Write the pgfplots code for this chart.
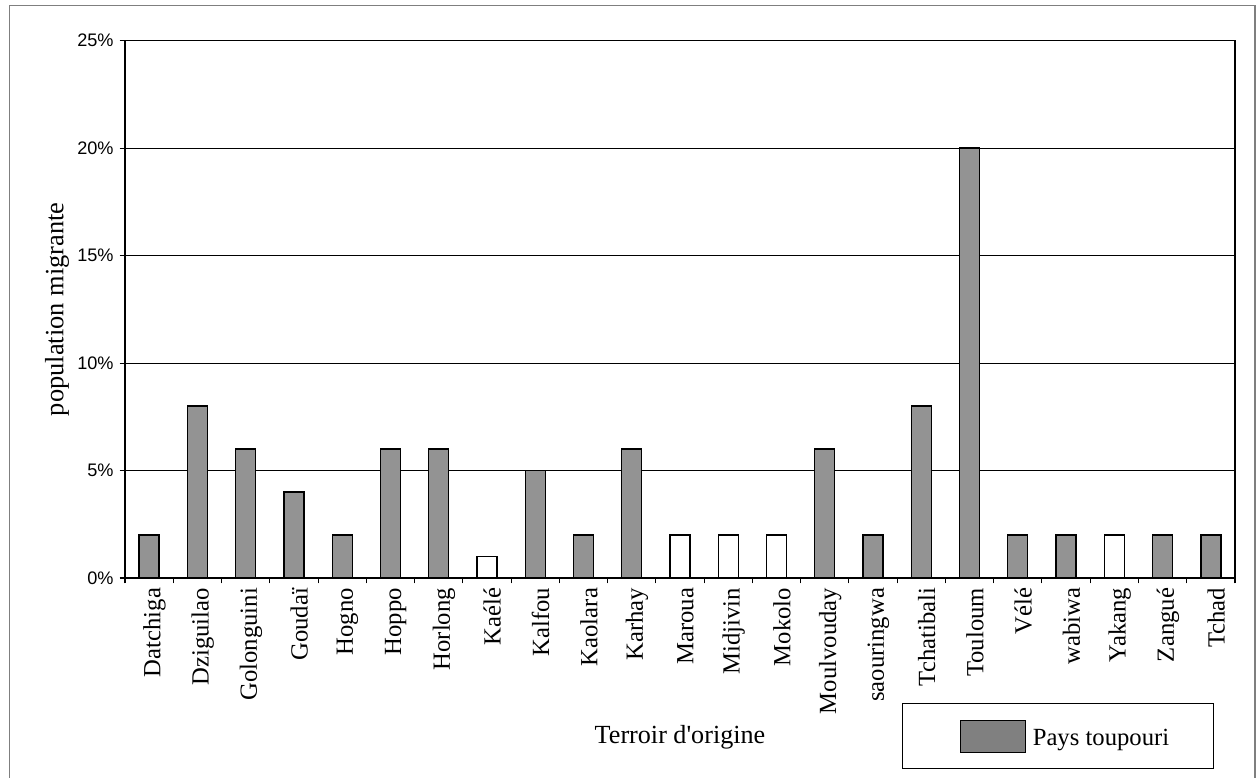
\documentclass[border=0pt]{standalone}
\usepackage{fontspec}
\setmainfont{Liberation Serif}[Ligatures=TeXOff]
\setsansfont{Liberation Sans}
\usepackage{pgfplots}
\pgfplotsset{compat=1.18}
\definecolor{barfill}{HTML}{939393}
\definecolor{keyfill}{HTML}{808080}
\definecolor{framegray}{HTML}{7F7F7F}
\newcommand{\pct}[1]{{\sffamily\fontsize{13.6}{16}\selectfont #1\%}}

% share of migrants by home area (percent)
\pgfplotstableread{
x  y
1  2
2  8
3  6
4  4
5  2
6  6
7  6
9  5
10 2
11 6
15 6
16 2
17 8
18 20
19 2
20 2
22 2
23 2
}\toupouri
\pgfplotstableread{
x  y
8  1
12 2
13 2
14 2
21 2
}\autres

\begin{document}
\begin{tikzpicture}
\useasboundingbox (-93.75pt,-150pt) rectangle (849pt,433.5pt);
\draw[framegray, line width=0.9pt] (-86.6pt,-160pt) rectangle (847.5pt,429.6pt);
\begin{axis}[
  at={(0,0)}, anchor=south west,
  scale only axis,
  width=832.5pt, height=403pt,
  xmin=0.5, xmax=23.5,
  ymin=0, ymax=25,
  axis line style={line width=1.1pt},
  xtick={1,...,23},
  xticklabels={Datchiga,Dziguilao,Golonguini,Goudaï,Hogno,Hoppo,Horlong,Kaélé,Kalfou,Kaolara,Karhay,Maroua,Midjivin,Mokolo,Moulvouday,saouringwa,Tchatibali,Touloum,Vélé,wabiwa,Yakang,Zangué,Tchad},
  minor xtick={0.5,1.5,...,23.5},
  major x tick style={draw=none},
  minor x tick style={black, line width=0.8pt},
  y tick style={black, line width=0.8pt},
  tick align=outside,
  major tick length=4pt,
  minor tick length=4pt,
  xtick pos=bottom, ytick pos=left,
  ytick={0,5,10,15,20,25},
  yticklabels={\pct{0},\pct{5},\pct{10},\pct{15},\pct{20},\pct{25}},
  yticklabel style={xshift=-1pt},
  xticklabel style={rotate=90, anchor=east, font=\fontsize{18.5}{21}\selectfont, yshift=-4pt},
  ymajorgrids,
  grid style={black, line width=0.7pt},
  xlabel={Terroir d'origine},
  ylabel={population migrante},
  xlabel style={at={(axis description cs:0.5,-0.2955)}, anchor=center, font=\fontsize{19.6}{22}\selectfont},
  ylabel style={at={(axis description cs:-0.0611,0.5)}, anchor=center, font=\fontsize{19.8}{22}\selectfont},
  legend style={at={(0.7,-0.2326)}, anchor=north west, draw=black, line width=0.8pt,
    inner xsep=31pt, inner ysep=12pt, font=\fontsize{18.5}{21}\selectfont},
  legend image code/.code={\path (-12pt,0pt);
    \draw[fill=keyfill, line width=0.9pt] (0pt,-10pt) rectangle (48.75pt,14pt);},
]
\addplot[ybar, bar width=15pt, bar shift=0pt, fill=barfill, draw=black, line width=1pt]
  table[x=x, y=y] {\toupouri};
\addlegendentry{\hspace{3pt}Pays\ toupouri}
\addplot[ybar, bar width=15pt, bar shift=0pt, fill=white, draw=black, line width=1pt, forget plot]
  table[x=x, y=y] {\autres};
\end{axis}
\end{tikzpicture}
\end{document}
